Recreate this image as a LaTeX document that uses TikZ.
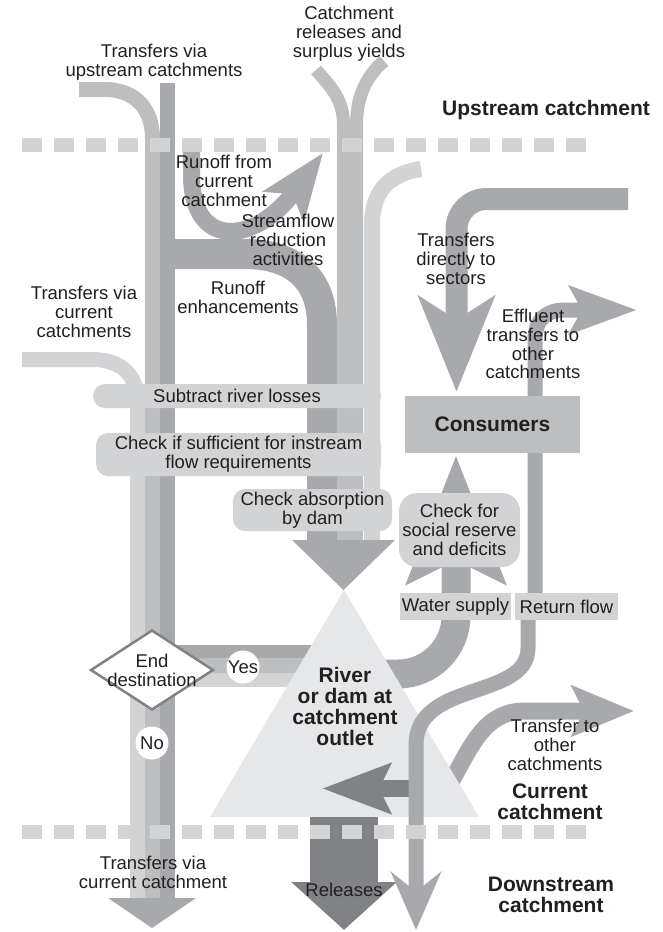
\documentclass[tikz,border=0pt]{standalone}
\usepackage{fontspec}
\setmainfont{Liberation Sans}
\usetikzlibrary{arrows.meta, shapes.geometric}

\definecolor{palegrey}{HTML}{D1D3D4}
\definecolor{lightgrey}{HTML}{BCBEC0}
\definecolor{midgrey}{HTML}{A7A9AC}
\definecolor{darkgrey}{HTML}{808285}
\definecolor{trigrey}{HTML}{E6E7E8}
\definecolor{inkblack}{HTML}{231F20}

\begin{document}
\begin{tikzpicture}[x=1pt, y=-1pt, every node/.style={font=\fontsize{18.5}{18.8}\selectfont, text=inkblack}]

\tikzset{stream/.style = {line width=#1}}
\tikzset{box/.style = {fill=palegrey, rounded corners=12pt, inner sep=0pt, align=center}}
\tikzset{tag/.style = {align=center, inner sep=0pt}}
\tikzset{heading/.style = {font=\fontsize{21}{21}\selectfont\bfseries}}
\tikzset{decision/.style = {shape=diamond, draw=darkgrey, line width=2.5pt, fill=white, minimum width=123pt, minimum height=80pt, inner sep=0pt}}
\tikzset{ring/.style = {shape=circle, fill=white, minimum size=33pt, inner sep=0pt}}

\useasboundingbox (0,0) rectangle (662,932);

%left channel
\draw[stream=15pt, palegrey] (22,359.5) -- (92,359.5) .. controls (122,359.5) and (137.5,376) .. (137.5,402) -- (137.5,899);
\draw[stream=15pt, lightgrey] (79,89.5) -- (105,89.5) .. controls (134,89.5) and (152.5,108) .. (152.5,138) -- (152.5,899);
\draw[stream=15pt, midgrey] (167.5,83) -- (167.5,899);
\fill[midgrey] (170,645) rectangle (330,658);
\fill[lightgrey] (170,658) rectangle (330,673);
\fill[palegrey] (170,673) rectangle (330,687);
\fill[midgrey] (108,898) -- (196,898) -- (152,928) -- cycle;

%middle streams
\draw[stream=30pt, midgrey] (175,254) -- (245,254) .. controls (295,254) and (322,280) .. (322,325) -- (322,541);
\draw[stream=13pt, lightgrey] (316,70) .. controls (332,88) and (343.5,100) .. (343.5,125) -- (343.5,541);
\draw[stream=13pt, lightgrey] (384,61) .. controls (364,78) and (356.5,100) .. (356.5,125) -- (356.5,541);
\draw[stream=16pt, palegrey] (421,169) .. controls (388,174) and (372,192) .. (372,225) -- (372,541);
\draw[stream=17pt, midgrey, -{Stealth[length=66pt, width=50pt, inset=15pt]}] (191.5,152) -- (191.5,175) .. controls (191.5,250) and (255,245) .. (323,153);
\fill[midgrey] (292,540) -- (395,540) -- (343.5,590) -- cycle;

%supply and transfer out of the outlet
\draw[stream=29pt, midgrey, rounded corners=58pt, -{Stealth[length=127pt, width=96pt, inset=22pt]}] (330,674) -- (456,674) -- (456,455);
\draw[stream=17pt, midgrey, -{Stealth[length=62pt, width=50pt, inset=12pt]}] (440,800) .. controls (468,758) and (478,711) .. (525,711) -- (634,711);

%outlet
\fill[trigrey] (344,590) -- (479,817) -- (210,817) -- cycle;
\draw[stream=68pt, darkgrey, -{Triangle[length=48pt, width=103pt]}] (344,817) -- (344,930);
\draw[stream=17pt, darkgrey, -{Stealth[length=68pt, width=49pt, inset=11pt]}] (416,788.5) -- (322,788.5);
\draw[stream=15pt, midgrey, -{Stealth[length=58pt, width=50pt, inset=20pt]}] (528,607) -- (528,648) .. controls (528,700) and (416,680) .. (416,745) -- (416,930);

%consumers streams
\draw[stream=15pt, midgrey, -{Stealth[length=67pt, width=47pt, inset=12pt]}] (535,607) -- (535,340) .. controls (535,318) and (548,310) .. (565,310) -- (637,310);
\draw[stream=22pt, midgrey, rounded corners=30pt, -{Stealth[length=95pt, width=75pt, inset=23pt]}] (628,199) -- (456.5,199) -- (456.5,392);

%boxes
\node[box, minimum width=288pt, minimum height=24pt] (losses) at (237,396) {Subtract river losses};
\node[box, minimum width=285pt, minimum height=43pt] (instream) at (238.5,454.5) {Check if sufficient for instream\\flow requirements};
\node[box, minimum width=159pt, minimum height=42pt] (absorb) at (312.5,510) {Check absorption\\by dam};
\node[box, rounded corners=18pt, minimum width=121pt, minimum height=74pt] (social) at (459.5,530) {Check for\\social reserve\\and deficits};
\node[box, rounded corners=0pt, minimum width=111pt, minimum height=27pt] (supply) at (455.5,606.5) {Water supply};
\node[box, rounded corners=0pt, minimum width=103pt, minimum height=27pt] (returnflow) at (566.5,606.5) {Return flow};
\node[box, heading, fill=lightgrey, rounded corners=0pt, minimum width=175pt, minimum height=57pt] (consumers) at (492.5,424.5) {Consumers};

%decision
\node[decision, label={[tag]center:End\\destination}] (dest) at (152,670) {};
\node[ring, label=center:Yes] (yes) at (243,667) {};
\node[ring, label=center:No] (no) at (152,743) {};

%catchment boundaries
\foreach \k in {0,...,17} {
  \fill[palegrey] (22+32*\k,138) rectangle ++(20,14);
  \fill[palegrey] (22+32*\k,825) rectangle ++(20,14);
}

%labels
\node[tag] (upvia) at (154,62) {Transfers via\\upstream catchments};
\node[tag] (catchrel) at (349,34) {Catchment\\releases and\\surplus yields};
\node[tag, heading] (upstream) at (546,110) {Upstream catchment};
\node[tag] (runoff) at (224,181) {Runoff from\\current\\catchment};
\node[tag] (reduction) at (288,240) {Streamflow\\reduction\\activities};
\node[tag] (enhance) at (238,297) {Runoff\\enhancements};
\node[tag] (curvia) at (84,312) {Transfers via\\current\\catchments};
\node[tag] (direct) at (456,259) {Transfers\\directly to\\sectors};
\node[tag] (effluent) at (533,344) {Effluent\\transfers to\\other\\catchments};
\node[tag, heading] (outlet) at (345,706) {River\\or dam at\\catchment\\outlet};
\node[tag] (other) at (555,745) {Transfer to\\other\\catchments};
\node[tag, heading] (current) at (550,802) {Current\\catchment};
\node[tag] (downvia) at (153,872) {Transfers via\\current catchment};
\node[tag] (releasetag) at (344,890) {Releases};
\node[tag, heading] (downstream) at (551,895) {Downstream\\catchment};

\end{tikzpicture}
\end{document}
